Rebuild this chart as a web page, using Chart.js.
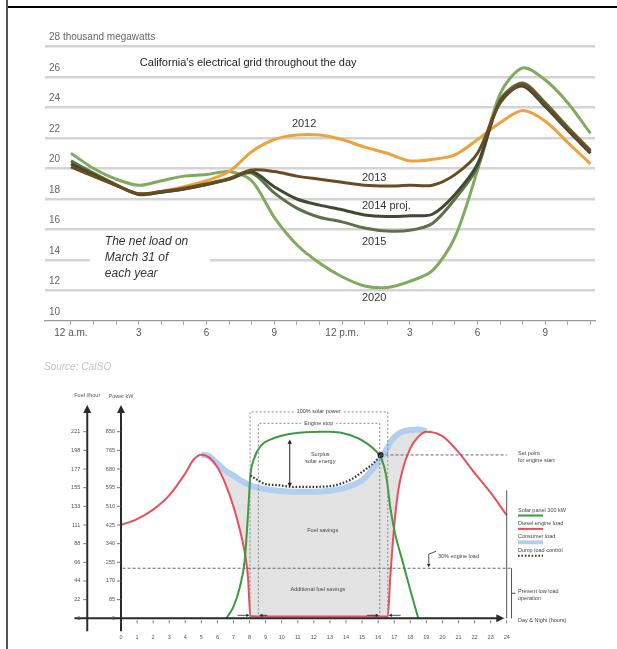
<!DOCTYPE html>
<html><head><meta charset="utf-8">
<script src="https://cdn.jsdelivr.net/npm/chart.js@4.4.1/dist/chart.umd.min.js"></script>
<style>
html,body{margin:0;padding:0;background:#fff;width:617px;height:649px;overflow:hidden;position:relative;font-family:"Liberation Sans",Arial,sans-serif}
#top{position:absolute;left:0;top:0;width:617px;height:380px}
#bot{position:absolute;left:0;top:380px;width:617px;height:269px}
.hl{position:absolute;left:6px;top:6px;width:611px;height:2px;background:#000}
.vl{position:absolute;left:6px;top:0;width:2px;height:649px;background:#555}
.src{position:absolute;left:44px;top:361px;font-size:10px;color:#c4c4c4;font-style:italic}
</style></head><body>
<canvas id="top" width="617" height="380"></canvas>
<canvas id="bot" width="617" height="269"></canvas>
<div class="hl"></div><div class="vl"></div>
<div class="src">Source: CaISO</div>
<script>
const FONT = '"Liberation Sans", Arial, sans-serif';

/* ---------- top chart data ---------- */
const hours = [0,1,2,3,4,5,6,7,8,9,10,11,12,13,14,15,16,17,18,19,20,21,22,23];
const tickHours = [0,3,6,9,12,15,18,21];
const tickText = ['12 a.m.','3','6','9','12 p.m.','3','6','9'];
const yTicks = [10,12,14,16,18,20,22,24,26,28];
const yTopLabel = '28 thousand megawatts';
const load2012 = [20.1,19.5,18.9,18.35,18.5,18.8,19.2,19.8,21.1,21.9,22.2,22.2,21.9,21.4,21.0,20.5,20.6,20.9,21.9,23.0,23.8,23.1,21.7,20.3];
const load2013 = [20.1,19.5,18.9,18.35,18.5,18.7,19.0,19.35,19.9,19.8,19.5,19.3,19.1,18.9,18.85,18.9,18.9,19.6,21.0,24.3,25.5,24.2,22.6,21.1];
const load2014 = [20.3,19.6,18.9,18.3,18.45,18.65,18.95,19.3,19.8,18.8,18.0,17.6,17.3,16.95,16.85,16.9,17.0,18.3,20.3,24.4,25.4,24.05,22.5,21.0];
const load2015 = [20.5,19.7,18.95,18.3,18.45,18.65,18.95,19.3,19.7,18.4,17.4,16.8,16.5,16.1,15.9,15.95,16.4,18.0,20.1,24.5,25.6,24.3,22.7,21.2];
const load2020 = [21.0,20.0,19.3,18.9,19.2,19.5,19.6,19.8,19.2,16.8,15.0,13.8,12.9,12.3,12.2,12.6,13.3,15.5,19.9,24.9,26.6,25.8,24.3,22.3];
const chartTitle = "California's electrical grid throughout the day";
const noteLines = ['The net load on','March 31 of','each year'];

/* ---------- bottom chart data ---------- */
const rbHours = [0,1,2,3,4,4.5,5,5.5,6,6.5,7,7.4,7.7,7.9,8.05,8.5,9,10,11,12,13,14,15,15.5,16,16.3,16.6,16.75,17,17.25,17.5,18,18.5,19,20,21,22,23,24];
const dieselKW = [425,452,495,560,660,721,745,732,688,612,508,402,300,190,10,8,8,8,8,8,8,8,8,8,8,8,8,180,420,580,670,774,827,850,830,757,662,572,470];
const consumerKW = [425,452,495,560,660,721,745,738,705,672,650,630,618,610,605,595,588,580,576,576,581,596,628,665,710,742,780,800,825,840,850,858,860,852,830,757,662,572,470];
const solarHours = [6.55,7,7.4,7.7,7.9,8.05,8.25,8.65,9.5,10.7,12.4,13,14.25,15.3,15.9,16.2,16.5,16.75,17.05,17.5,18,18.5];
const solarKW = [0,53,144,265,470,650,721,781,820,842,850,850,835,797,759,728,650,508,387,265,129,0];
const dumpHours = [8.05,8.5,9,9.7,10.7,12,13,14.25,15.3,15.8,16.15];
const dumpKW = [650,630,611,607,599,599,602,630,683,713,744];
const powerTicks = [0,85,170,255,340,425,510,595,680,765,850];
const fuelTicks = ['0','22','44','66','88','111','133','155','177','198','221'];
const dayTicks = [0,1,2,3,4,5,6,7,8,9,10,11,12,13,14,15,16,17,18,19,20,21,22,23,24];
const solarBox = {from:8.03, to:16.6, top:940, text:'100% solar power'};
const engineBox = {from:8.55, to:16.1, top:888, text:'Engine stop'};
const setPointKW = 744, lowLoadKW = 228;
const legendItems = [
  {t:'Solar panel 300 kW', c:'#3b9b3f', w:2, dash:[]},
  {t:'Diesel engine load', c:'#e6505c', w:2, dash:[]},
  {t:'Consumer load', c:'#b2cff0', w:4, dash:[]},
  {t:'Dump load control', c:'#333', w:2, dash:[1.6,1.8]}
];

function pts(xs, ys){ return xs.map((v,i)=>({x:v, y:ys[i]})); }

/* ---------- top chart ---------- */
function ds(label, data, color, order){
  return {label, data: pts(hours, data), borderColor: color, borderWidth: 3, pointRadius: 0, tension: 0.3, order, fill:false};
}
const topDeco = {
  id:'topDeco',
  beforeDatasetsDraw(chart){
    const {ctx, scales:{y}} = chart;
    ctx.save(); ctx.fillStyle='#fff';
    ctx.fillRect(90, y.getPixelForValue(14)-3, 120, 6);
    ctx.restore();
  },
  afterDatasetsDraw(chart){
    const {ctx, scales:{x,y}} = chart;
    const X=v=>x.getPixelForValue(v), Y=v=>y.getPixelForValue(v);
    ctx.save();
    ctx.textBaseline='middle';
    ctx.font = '11px '+FONT; ctx.fillStyle='#222'; ctx.textAlign='left';
    ctx.fillText(chartTitle, X(3.05), Y(26.92));
    ctx.fillStyle='#333';
    ctx.fillText('2012', X(9.78), Y(22.9));
    ctx.fillText('2013', X(12.88), Y(19.38));
    ctx.fillText('2014 proj.', X(12.88), Y(17.54));
    ctx.fillText('2015', X(12.88), Y(15.2));
    ctx.fillText('2020', X(12.88), Y(11.51));
    ctx.font = 'italic 12px '+FONT; ctx.fillStyle='#333';
    noteLines.forEach((t,i)=>ctx.fillText(t, X(1.5), Y(15.2)+i*16));
    ctx.restore();
  }
};
new Chart(document.getElementById('top'), {
  type:'line',
  data:{datasets:[
    ds('2013', load2013, '#6a4b22', 0),
    ds('2014 proj.', load2014, '#3f4a31', 1),
    ds('2015', load2015, '#5d7049', 2),
    ds('2012', load2012, '#eda23e', 3),
    ds('2020', load2020, '#80aa5c', 4)
  ]},
  options:{
    responsive:false, animation:false,
    layout:{padding:{left:45, right:22, top:46.5, bottom:37}},
    plugins:{legend:{display:false}, tooltip:{enabled:false}},
    scales:{
      x:{type:'linear', min:-1.15, max:23.2,
        afterBuildTicks:s=>{ s.ticks = hours.map(v=>({value:v})); },
        afterFit:s=>{ s.height = 22; },
        ticks:{autoSkip:false, maxRotation:0, padding:2, color:'#555', font:{family:FONT, size:10},
          callback:v=>{ const i = tickHours.indexOf(v); return i<0 ? '' : tickText[i]; }},
        grid:{display:true, drawOnChartArea:false, drawTicks:true, tickLength:4, color:'#aaa'},
        border:{display:true, color:'#999', width:1.2}},
      y:{min:10, max:28,
        afterBuildTicks:s=>{ s.ticks = yTicks.map(v=>({value:v})); },
        afterFit:s=>{ s.width = 0; },
        ticks:{mirror:true, labelOffset:-9, padding:4, color:'#666', font:{family:FONT, size:10},
          callback:v=> v===28 ? yTopLabel : String(v)},
        grid:{drawTicks:false, lineWidth:2.5, color:c=> (c.tick && c.tick.value===10) ? 'rgba(0,0,0,0)' : '#d4d4d4'},
        border:{display:false}}
    }
  },
  plugins:[topDeco]
});

/* ---------- bottom chart ---------- */
function line(ctx,x1,y1,x2,y2){ ctx.beginPath(); ctx.moveTo(x1,y1); ctx.lineTo(x2,y2); ctx.stroke(); }
function tri(ctx,x,y,dir,s){
  ctx.beginPath();
  if(dir==='up'){ ctx.moveTo(x,y); ctx.lineTo(x-s,y+2*s); ctx.lineTo(x+s,y+2*s); }
  if(dir==='down'){ ctx.moveTo(x,y); ctx.lineTo(x-s,y-2*s); ctx.lineTo(x+s,y-2*s); }
  if(dir==='right'){ ctx.moveTo(x,y); ctx.lineTo(x-2*s,y-s); ctx.lineTo(x-2*s,y+s); }
  if(dir==='left'){ ctx.moveTo(x,y); ctx.lineTo(x+2*s,y-s); ctx.lineTo(x+2*s,y+s); }
  ctx.closePath(); ctx.fill();
}
const botDeco = {
  id:'botDeco',
  afterDatasetsDraw(chart){
    const {ctx, scales:{x,y}} = chart;
    const X=v=>x.getPixelForValue(v), Y=v=>y.getPixelForValue(v);
    const y0 = Y(0);
    ctx.save();
    ctx.strokeStyle='#8a8a8a'; ctx.lineWidth=1; ctx.setLineDash([2,2]);
    [solarBox, engineBox].forEach(b=>{
      ctx.beginPath(); ctx.moveTo(X(b.from), y0); ctx.lineTo(X(b.from), Y(b.top));
      ctx.lineTo(X(b.to), Y(b.top)); ctx.lineTo(X(b.to), y0); ctx.stroke();
    });
    ctx.strokeStyle='#666'; ctx.setLineDash([3,2]);
    line(ctx, X(16.15), Y(setPointKW), X(24), Y(setPointKW));
    line(ctx, X(0.1), Y(lowLoadKW), X(24.3), Y(lowLoadKW));
    ctx.setLineDash([]);
    ctx.strokeStyle='#555'; ctx.lineWidth=1;
    line(ctx, X(24), Y(583), X(24), y0);
    line(ctx, X(24.3), Y(lowLoadKW), X(24.3), y0);
    line(ctx, X(24.3), (Y(lowLoadKW)+y0)/2, X(24.3)+4, (Y(lowLoadKW)+y0)/2);
    // surplus arrow
    ctx.strokeStyle='#222'; ctx.fillStyle='#222';
    line(ctx, X(10.5), Y(805), X(10.5), Y(607));
    tri(ctx, X(10.5), Y(815), 'up', 2.2); tri(ctx, X(10.5), Y(597), 'down', 2.2);
    // small delay arrows
    const ya = y0-3;
    ctx.lineWidth=0.8;
    line(ctx, X(7.25), ya, X(7.85), ya); tri(ctx, X(8.0), ya, 'right', 1.6);
    line(ctx, X(9.1), ya, X(8.75), ya); tri(ctx, X(8.6), ya, 'left', 1.6);
    line(ctx, X(15.3), ya, X(15.9), ya); tri(ctx, X(16.05), ya, 'right', 1.6);
    line(ctx, X(17.4), ya, X(16.8), ya); tri(ctx, X(16.65), ya, 'left', 1.6);
    // 30% arrow
    line(ctx, X(19.15), Y(lowLoadKW)-14, X(19.15), Y(lowLoadKW)-5); tri(ctx, X(19.15), Y(lowLoadKW)-1, 'down', 1.8);
    line(ctx, X(19.15), Y(lowLoadKW)-14, X(19.6), Y(lowLoadKW)-17);
    // texts
    ctx.font = '5.5px '+FONT; ctx.textBaseline='middle'; ctx.textAlign='center';
    [solarBox, engineBox].forEach(b=>{
      const w = ctx.measureText(b.text).width + 6;
      ctx.fillStyle='#fff'; ctx.fillRect(X(12.3)-w/2, Y(b.top)-3, w, 6);
      ctx.fillStyle='#444'; ctx.fillText(b.text, X(12.3), Y(b.top));
    });
    ctx.fillStyle='#444';
    ctx.fillText('Surplus', X(12.4), Y(748));
    ctx.fillText('solar energy', X(12.4), Y(716));
    ctx.fillText('Fuel savings', X(12.55), Y(402));
    ctx.fillText('Additional fuel savings', X(12.25), Y(129));
    ctx.textAlign='left';
    ctx.fillText('Set point', 518, 73); ctx.fillText('for engine start', 518, 80);
    ctx.fillText('30% engine load', 438, 176);
    ctx.fillText('Prevent low load', 518, 211); ctx.fillText('operation', 518, 218);
    ctx.fillText('Day & Night (hours)', 518, 240);
    legendItems.forEach((it,i)=>{
      const ty = 130 + i*13.4;
      ctx.fillStyle='#444'; ctx.fillText(it.t, 518, ty);
      ctx.strokeStyle=it.c; ctx.lineWidth=it.w; ctx.setLineDash(it.dash);
      line(ctx, 518, ty+5.5, 543, ty+5.5);
      ctx.setLineDash([]);
    });
    ctx.restore();
  },
  afterDraw(chart){
    const {ctx, scales:{x,y}} = chart;
    const X=v=>x.getPixelForValue(v), Y=v=>y.getPixelForValue(v);
    const y0 = Y(0);
    ctx.save();
    ctx.strokeStyle='#2a2a2a'; ctx.fillStyle='#2a2a2a'; ctx.lineWidth=2;
    const axesAt = [-2.1, 0];
    axesAt.forEach(h=>{ const xx = X(h); line(ctx, xx, y0+13, xx, 32); tri(ctx, xx, 25, 'up', 4); });
    line(ctx, X(-2.9), y0, X(23.6), y0); tri(ctx, X(23.85), y0, 'right', 4);
    ctx.lineWidth=0.8; ctx.strokeStyle='#555';
    ctx.font='5.5px '+FONT; ctx.fillStyle='#555'; ctx.textBaseline='middle'; ctx.textAlign='right';
    powerTicks.forEach((v,i)=>{
      const yy = Y(v);
      if(i>0){ line(ctx, X(0)-4, yy, X(0), yy); line(ctx, X(-2.1)-4, yy, X(-2.1), yy); }
      ctx.fillText(String(v), X(0)-6, yy);
      ctx.fillText(fuelTicks[i], X(-2.1)-7, yy);
    });
    ctx.textAlign='center';
    dayTicks.forEach(h=>{ line(ctx, X(h), y0+2, X(h), y0+5); ctx.fillText(String(h), X(h), y0+19); });
    ctx.fillText('Fuel l/hour', X(-2.1), 15);
    ctx.fillText('Power kW', X(0), 16);
    ctx.restore();
  }
};
new Chart(document.getElementById('bot'), {
  type:'line',
  data:{datasets:[
    {label:'Diesel engine load', data: pts(rbHours, dieselKW), borderColor:'#e6505c', borderWidth:2, order:1, clip:false},
    {label:'Consumer load', data: pts(rbHours, consumerKW), borderColor:'#b2cff0', borderWidth:6, order:3, clip:false,
      fill:{target:0, above:'#e3e3e3', below:'rgba(0,0,0,0)'},
      segment:{borderColor: c => (c.p0.parsed.x < 5 || c.p1.parsed.x > 19) ? 'rgba(0,0,0,0)' : '#b2cff0'}},
    {label:'Solar panel 300 kW', data: pts(solarHours, solarKW), borderColor:'#3b9b3f', borderWidth:2, order:0, clip:false},
    {label:'Dump load control', data: pts(dumpHours, dumpKW), borderColor:'#333', borderWidth:2.2, borderDash:[1.6,1.8], order:-1, clip:false,
      pointRadius: c => c.dataIndex===dumpHours.length-1 ? 3 : 0, pointBackgroundColor:'#222', pointBorderWidth:0}
  ]},
  options:{
    responsive:false, animation:false,
    layout:{padding:{left:121, right:110.3, top:27, bottom:30.7}},
    elements:{line:{cubicInterpolationMode:'monotone'}, point:{radius:0}},
    plugins:{legend:{display:false}, tooltip:{enabled:false}},
    scales:{
      x:{type:'linear', min:0, max:24, display:false},
      y:{min:0, max:962.5, display:false}
    }
  },
  plugins:[botDeco]
});
</script></body></html>
